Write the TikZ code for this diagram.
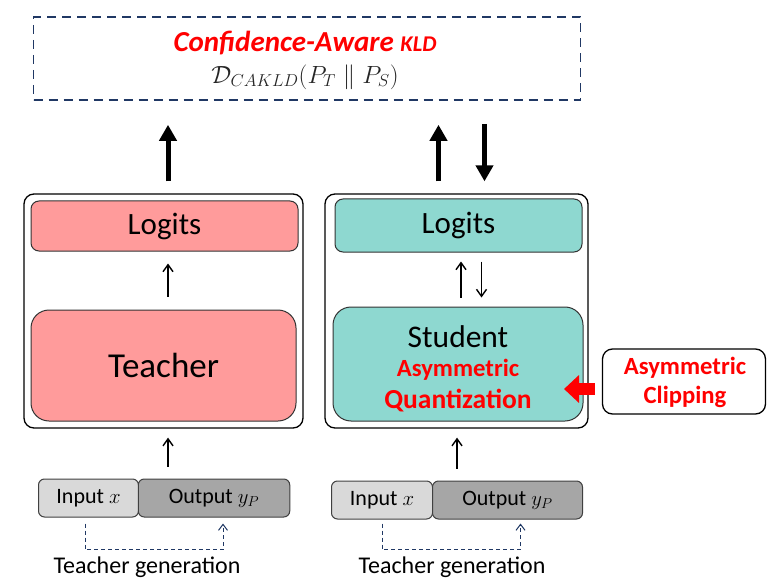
\documentclass[tikz,border=0pt]{standalone}
\usepackage{fontspec}
\setmainfont{Carlito}
\usetikzlibrary{arrows.meta}
\definecolor{tpink}{HTML}{FF9B9B}
\definecolor{steal}{HTML}{8ED8D0}
\definecolor{ingray}{HTML}{D9D9D9}
\definecolor{outgray}{HTML}{A6A6A6}
\definecolor{navy}{HTML}{203864}
\definecolor{kred}{HTML}{FF0000}
\tikzset{
  outerbox/.style={draw=black, line width=1.3pt, rounded corners=10pt, inner sep=0pt},
  logitbox/.style={draw=black!80, line width=1pt, rounded corners=8pt, inner sep=0pt, font=\fontsize{31}{34}\selectfont},
  modelbox/.style={draw=black!80, line width=1pt, rounded corners=18pt, inner sep=0pt},
  seqbox/.style={draw=black!75, line width=1pt, rounded corners=6pt, inner sep=0pt, font=\fontsize{22}{26}\selectfont},
  bigarrow/.style={line width=5pt, -{Triangle[width=17pt,length=16pt]}},
  thinarrow/.style={line width=1.4pt, -{Straight Barb[width=10pt,length=7pt]}},
  gendash/.style={draw=navy, line width=1pt, dashed, dash pattern=on 4pt off 3pt, -{Straight Barb[width=9pt,length=6pt]}},
  redarrow/.style={draw=kred, line width=12pt, -{Triangle[width=27pt,length=15pt]}},
  redtxt/.style={text=kred, font=\bfseries\fontsize{24.7}{28}\selectfont},
  gentxt/.style={font=\fontsize{24}{28}\selectfont},
}
\begin{document}
\begin{tikzpicture}[x=1pt,y=-1pt]
\useasboundingbox (0,0) rectangle (776,588);

% top dashed box
\node[draw=navy, line width=1.6pt, dashed, dash pattern=on 9pt off 6pt, minimum width=547pt, minimum height=83pt] (kld) at (307,58.5) {};
\node[text=kred, font=\bfseries\itshape\fontsize{29}{32}\selectfont] (kldtitle) at (305,43) {Confidence-Aware {\fontsize{22.5}{26}\selectfont KLD}};
\node[text=black!85, font=\fontsize{26}{30}\selectfont] (kldform) at (305,77) {$\mathcal{D}_{CAKLD}(P_T \parallel P_S)$};

% teacher column
\node[outerbox, minimum width=279pt, minimum height=234pt] (tbox) at (163.5,311) {};
\node[logitbox, fill=tpink, minimum width=267pt, minimum height=50pt] (tlog) at (164.5,226) {Logits};
\node[modelbox, fill=tpink, minimum width=265pt, minimum height=111pt, font=\fontsize{35}{40}\selectfont] (tch) at (163.5,365.5) {Teacher};

% student column
\node[outerbox, minimum width=263pt, minimum height=234pt] (sbox) at (456.5,311) {};
\node[logitbox, fill=steal, minimum width=247pt, minimum height=53pt] (slog) at (458.5,225.5) {Logits};
\node[modelbox, fill=steal, minimum width=250pt, minimum height=114pt] (stu) at (458,364) {};
\node[font=\fontsize{31.5}{36}\selectfont] (stutxt) at (458,337) {Student};
\node[redtxt] (stuasym) at (458,370) {Asymmetric};
\node[redtxt, font=\bfseries\fontsize{27.5}{32}\selectfont] (stuquant) at (458,401) {Quantization};

% clipping box
\node[draw=black, line width=1.3pt, rounded corners=10pt, minimum width=163pt, minimum height=65pt] (clip) at (684,381.5) {};
\node[redtxt] (clip1) at (685,368) {Asymmetric};
\node[redtxt] (clip2) at (685,397) {Clipping};
\coordinate (rtip) at (564,389);
\draw[redarrow] ([xshift=-7pt,yshift=-7.5pt]clip.west) -- (rtip);

% input/output boxes
\node[seqbox, fill=ingray, minimum width=100pt, minimum height=38pt] (tin) at (88.5,498) {Input $x$};
\node[seqbox, fill=outgray, minimum width=151.5pt, minimum height=38pt] (typ) at (214,498) {Output $y_P$};
\node[seqbox, fill=ingray, minimum width=101pt, minimum height=38pt] (sin) at (382,500) {Input $x$};
\node[seqbox, fill=outgray, minimum width=150pt, minimum height=38pt] (syp) at (507.5,500) {Output $y_P$};

% teacher generation
\draw[gendash] ([xshift=-3.5pt,yshift=-6pt]tin.south) -- ++(0,26) -| ([xshift=9pt,yshift=-6pt]typ.south);
\draw[gendash] ([yshift=-4pt]sin.south) -- ++(0,26) -| ([xshift=13pt,yshift=-4pt]syp.south);
\node[gentxt] (tgen) at (147,567) {Teacher generation};
\node[gentxt] (sgen) at (452,567) {Teacher generation};

% arrows
\draw[bigarrow] ([xshift=4.5pt,yshift=12pt]tbox.north) -- ([xshift=4.5pt,yshift=-24pt]kld.south -| tbox.north);
\draw[bigarrow] ([xshift=-18pt,yshift=12pt]sbox.north) -- ([xshift=-18pt,yshift=-24pt]kld.south -| sbox.north);
\draw[bigarrow] ([xshift=28pt,yshift=-23pt]kld.south -| sbox.north) -- ([xshift=28pt,yshift=12pt]sbox.north);

\draw[thinarrow] ([xshift=4.5pt,yshift=13pt]tch.north) -- ([xshift=3.5pt,yshift=-12pt]tlog.south);
\draw[thinarrow] ([xshift=3pt,yshift=9pt]stu.north) -- ([xshift=2.5pt,yshift=-9pt]slog.south);
\draw[thinarrow] ([xshift=23pt,yshift=-9pt]slog.south) -- ([xshift=23.5pt,yshift=9pt]stu.north);

\draw[thinarrow] ([xshift=4.5pt,yshift=12pt]tin.north -| tbox.south) -- ([xshift=4.5pt,yshift=-9pt]tbox.south);
\draw[thinarrow] ([xshift=0.5pt,yshift=12pt]sin.north -| sbox.south) -- ([xshift=0.5pt,yshift=-9pt]sbox.south);
\end{tikzpicture}
\end{document}
